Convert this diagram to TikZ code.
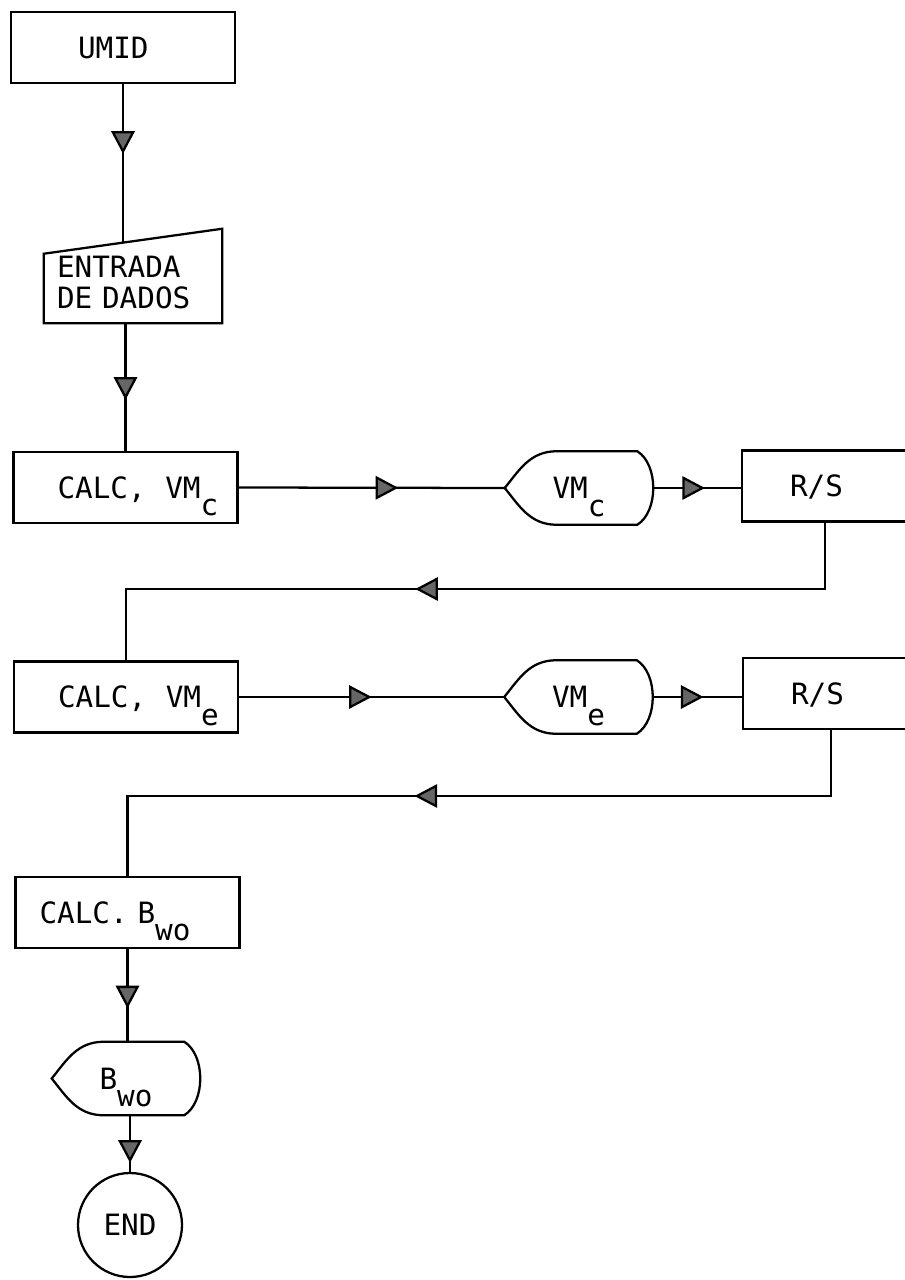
\documentclass[tikz,border=0pt]{standalone}
\usepackage{fontspec}
\setmainfont{DejaVu Sans Mono}
\usetikzlibrary{arrows.meta,calc,decorations.markings}

\newcommand{\lowsub}[1]{\raisebox{-0.6em}{#1}}
% outline of a display symbol round a node
\newcommand{\dispoutline}[1]{%
  \draw[thickline] (#1.west)
    .. controls ([shift={(11pt,13.5pt)}]#1.west) and ([xshift=19pt]#1.north west) .. ([xshift=39pt]#1.north west)
    -- ([xshift=-12pt]#1.north east)
    .. controls ([shift={(4pt,-10pt)}]#1.north east) and ([shift={(4pt,10pt)}]#1.south east) .. ([xshift=-12pt]#1.south east)
    -- ([xshift=39pt]#1.south west)
    .. controls ([xshift=19pt]#1.south west) and ([shift={(11pt,-13.5pt)}]#1.west) .. cycle;}

\begin{document}
\begin{tikzpicture}[
  x=0.75pt, y=-0.75pt,
  font=\fontsize{22}{23.25}\selectfont,
  thickline/.style={line width=1.7pt,draw=black},
  box/.style 2 args={thickline,rectangle,inner ysep=0pt,inner xsep=#1,text width=#2,
              align=left,minimum height=53.25pt,text height=16pt,text depth=0pt},
  disp/.style={rectangle,inner sep=0pt,minimum width=111pt,minimum height=54.75pt,
               text height=16pt,text depth=0pt},
  flow/.style={thickline,postaction={decorate},
    decoration={markings,mark=at position #1 with {\arrow{Triangle[length=17pt,width=17.5pt,fill=black!60]}}}}
]
\useasboundingbox (0,0) rectangle (905,1280);
\clip (0,0) rectangle (905,1280);

% left column
\node[box={50.25pt}{67.5pt}] (umid) at (123,47.5) {UMID};
\node[rectangle,inner ysep=0pt,inner xsep=9.75pt,text width=114pt,align=left,
      minimum height=70.5pt,text height=25pt,text depth=23.25pt] (inp) at (133,276)
      {ENTRADA\\DE DADOS};
\draw[thickline] (inp.south west) -- (inp.south east) -- (inp.north east)
  -- ([yshift=-18.75pt]inp.north west) -- cycle;
\coordinate (inptop) at ($([yshift=-18.75pt]inp.north west)!0.444!(inp.north east)$);

\node[box={33pt}{102pt}] (calcc) at (125.5,487.5) {CALC,~~VM\lowsub{c}};
\node[disp] (dispc) at (579,488) {VM\lowsub{c}};
\dispoutline{dispc}
\node[box={36pt}{96pt}] (rsc) at (854,486) {R/S};

\node[box={33pt}{102pt}] (calce) at (126,697) {CALC,~~VM\lowsub{e}};
\node[disp] (dispe) at (578.5,697) {VM\lowsub{e}};
\dispoutline{dispe}
\node[box={36pt}{96pt}] (rse) at (855,693.5) {R/S};

\node[box={18pt}{132pt}] (calcb) at (127.5,912.5) {CALC.~B\lowsub{wo}};
\node[disp] (dispb) at (126,1078.5) {B\lowsub{wo}};
\dispoutline{dispb}
\node[circle,thickline,minimum size=78pt,inner sep=0pt] (endn) at (130,1225) {END};

\coordinate (k1) at (825,589);
\coordinate (k2) at (831,796);

% connectors
\draw[flow=0.44] (umid.south) -- (umid.south |- inptop);
\draw[flow=0.6] (calcc.north |- inp.south) -- (calcc.north);
\draw[flow=0.6] (calcc.east) -- (dispc.west);
\draw[flow=0.59] (dispc.east) -- (dispc.east -| rsc.west);
\draw[flow=0.569] (rsc.south -| k1) -- (k1) -| (calce.north);
\draw[flow=0.5] (calce.east) -- (dispe.west);
\draw[flow=0.57] (dispe.east) -- (dispe.east -| rse.west);
\draw[flow=0.568] (rse.south -| k2) -- (k2) -| (calcb.north);
\draw[flow=0.64] (calcb.south) -- (calcb.south |- dispb.north);
\draw[flow=0.84] (endn.north |- dispb.south) -- (endn.north);
\end{tikzpicture}
\end{document}
